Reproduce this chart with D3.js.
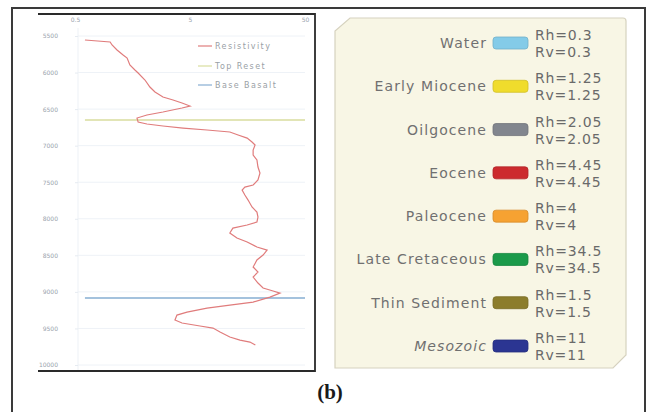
<!DOCTYPE html>
<html>
<head>
<meta charset="utf-8">
<script src="https://cdn.jsdelivr.net/npm/d3@7"></script>
<style>
  body { margin: 0; background: #fff; }
  svg { display: block; }
</style>
</head>
<body>
<svg width="655" height="412"></svg>
<script>
// Resistivity log (depth in ft, resistivity in ohm.m)
const depth = [
  5555, 5582, 5623, 5692, 5760, 5801, 5897, 5965, 6006, 6102,
  6198, 6266, 6334, 6376, 6417, 6458, 6485, 6540, 6581, 6622,
  6677, 6704, 6731, 6759, 6786, 6813, 6854, 6896, 6950, 6991,
  7060, 7128, 7196, 7292, 7374, 7470, 7538, 7566, 7607, 7675,
  7744, 7839, 7908, 7976, 8044, 8085, 8127, 8195, 8263, 8318,
  8386, 8428, 8496, 8564, 8660, 8728, 8797, 8879, 8947, 8988,
  9016, 9071, 9139, 9180, 9221, 9276, 9317, 9385, 9426, 9467,
  9495, 9549, 9617, 9659, 9686, 9727
];
const resistivity = [
  0.61, 1.01, 1.05, 1.16, 1.31, 1.42, 1.50, 1.66, 1.77, 2.03,
  2.24, 2.48, 2.91, 3.56, 4.26, 5.0, 4.26, 2.91, 2.11, 1.73,
  1.77, 2.11, 2.91, 4.35, 7.03, 11.1, 13.1, 15.7, 17.3, 18.4,
  17.7, 17.7, 19.1, 19.5, 20.3, 19.5, 17.7, 15.0, 14.2, 15.0,
  16.0, 17.3, 19.1, 19.5, 19.1, 15.7, 11.8, 11.1, 12.8, 15.7,
  19.1, 23.4, 21.6, 19.1, 17.7, 19.5, 17.7, 19.5, 21.6, 26.4,
  30.3, 24.8, 17.7, 11.1, 7.03, 4.71, 3.85, 3.70, 4.26, 6.11,
  7.92, 9.12, 11.1, 13.6, 16.6, 18.5
];
const topReset = 6650;
const baseBasalt = 9085;
const markerSpan = [0.61, 50];

const xTicks = [0.5, 5, 50];
const yTicks = [5500, 6000, 6500, 7000, 7500, 8000, 8500, 9000, 9500, 10000];
const logLegend = ['Resistivity', 'Top Reset', 'Base Basalt'];
const logColors = ['#e07c7c', '#d8dd9e', '#86aed2'];

// Formation legend
const formations = ['Water', 'Early Miocene', 'Oilgocene', 'Eocene', 'Paleocene',
  'Late Cretaceous', 'Thin Sediment', 'Mesozoic'];
const formationColors = ['#84cbe8', '#f0dc2c', '#82868e', '#cc2b2e', '#f6a232',
  '#1b9a4a', '#8c7d2c', '#2b3592'];
const rh = ['0.3', '1.25', '2.05', '4.45', '4', '34.5', '1.5', '11'];
const rv = ['0.3', '1.25', '2.05', '4.45', '4', '34.5', '1.5', '11'];

const svg = d3.select('svg');

// outer figure frame
svg.append('rect')
  .attr('x', 12).attr('y', 8)
  .attr('width', 633).attr('height', 412)
  .attr('fill', 'none')
  .attr('stroke', '#3a3a3a')
  .attr('stroke-width', 2);

// ---- left panel: log plot ----
const x = d3.scaleLog().domain([0.5, 50]).range([75, 305]);
const y = d3.scaleLinear().domain([5500, 10000]).range([36, 365]);

const plot = svg.append('g');

// faint horizontal grid
plot.append('g')
  .selectAll('line')
  .data(yTicks)
  .join('line')
    .attr('x1', 78).attr('x2', 305)
    .attr('y1', d => y(d)).attr('y2', d => y(d))
    .attr('stroke', '#eef2f7');

// y axis (depth)
plot.append('g')
  .attr('transform', 'translate(78,0)')
  .call(d3.axisLeft(y)
    .tickValues(yTicks)
    .tickSize(3)
    .tickPadding(17)
    .tickFormat(d => d))
  .call(g => g.select('.domain').attr('stroke', '#edf1f6').attr('d', `M0,${y(5500) - 8}V${371}`))
  .call(g => g.selectAll('.tick line').attr('stroke', '#e6ebf1'))
  .call(g => g.selectAll('.tick text')
    .attr('fill', '#9aa3ad')
    .attr('font-family', 'DejaVu Sans')
    .attr('font-size', 6));

// x axis (resistivity, log)
plot.append('g')
  .attr('transform', 'translate(0,14)')
  .call(d3.axisBottom(x)
    .tickValues(xTicks)
    .tickSize(0)
    .tickPadding(4)
    .tickFormat(d => d))
  .call(g => g.select('.domain').remove())
  .call(g => g.selectAll('.tick text')
    .attr('fill', '#9aa3ad')
    .attr('font-family', 'DejaVu Sans')
    .attr('font-size', 6));

// formation markers
plot.append('g')
  .selectAll('line')
  .data([topReset, baseBasalt])
  .join('line')
    .attr('x1', x(markerSpan[0])).attr('x2', x(markerSpan[1]))
    .attr('y1', d => y(d)).attr('y2', d => y(d))
    .attr('stroke', (d, i) => logColors[i + 1])
    .attr('stroke-width', 1.5);

// resistivity curve
const line = d3.line()
  .x(d => x(d[1]))
  .y(d => y(d[0]));

plot.append('path')
  .datum(d3.zip(depth, resistivity))
  .attr('d', line)
  .attr('fill', 'none')
  .attr('stroke', logColors[0])
  .attr('stroke-width', 1.2);

// plot legend
const lg = plot.append('g')
  .selectAll('g')
  .data(logLegend)
  .join('g')
    .attr('transform', (d, i) => `translate(198,${[46, 66, 85][i]})`);
lg.append('line')
  .attr('x1', 0).attr('x2', 14)
  .attr('stroke', (d, i) => logColors[i])
  .attr('stroke-width', 1.2);
lg.append('text')
  .attr('x', 17)
  .attr('dy', '0.35em')
  .attr('fill', '#9a9fa6')
  .attr('font-family', 'DejaVu Sans')
  .attr('font-size', 8)
  .attr('letter-spacing', 1.4)
  .text(d => d);

// plot frame (top, right, bottom)
plot.append('path')
  .attr('d', 'M38,14H315V371H38')
  .attr('fill', 'none')
  .attr('stroke', '#2a2a2a')
  .attr('stroke-width', 1.8);

// ---- right panel: formation legend ----
svg.append('path')
  .attr('d', 'M350,18H623Q626,18 626,21V355L613,368H335V31Z')
  .attr('fill', '#f8f6e5')
  .attr('stroke', '#d6d2bf')
  .attr('stroke-width', 1.2);

const ly = d3.scalePoint().domain(formations).range([43, 346]);

const item = svg.append('g')
  .selectAll('g')
  .data(formations)
  .join('g')
    .attr('transform', d => `translate(0,${ly(d)})`);

item.append('text')
  .attr('x', 487)
  .attr('dy', '0.36em')
  .attr('text-anchor', 'end')
  .attr('fill', '#707070')
  .attr('font-family', 'DejaVu Sans')
  .attr('font-size', 14)
  .attr('letter-spacing', 1.1)
  .attr('font-style', d => d === 'Mesozoic' ? 'italic' : null)
  .text(d => d);

item.append('rect')
  .attr('x', 493).attr('y', -6)
  .attr('width', 35).attr('height', 12)
  .attr('rx', 3)
  .attr('fill', (d, i) => formationColors[i])
  .attr('stroke', (d, i) => d3.color(formationColors[i]).darker(0.4))
  .attr('stroke-width', 0.8);

item.append('text')
  .attr('x', 535).attr('y', -8)
  .attr('dy', '0.36em')
  .attr('fill', '#6a6a6a')
  .attr('font-family', 'DejaVu Sans')
  .attr('font-size', 14)
  .attr('letter-spacing', 0.8)
  .text((d, i) => `Rh=${rh[i]}`);

item.append('text')
  .attr('x', 535).attr('y', 9)
  .attr('dy', '0.36em')
  .attr('fill', '#6a6a6a')
  .attr('font-family', 'DejaVu Sans')
  .attr('font-size', 14)
  .attr('letter-spacing', 0.8)
  .text((d, i) => `Rv=${rv[i]}`);

// panel caption
svg.append('text')
  .attr('x', 330).attr('y', 399)
  .attr('text-anchor', 'middle')
  .attr('font-family', 'Liberation Serif')
  .attr('font-weight', 'bold')
  .attr('font-size', 21)
  .attr('fill', '#1a1a1a')
  .text('(b)');
</script>
</body>
</html>
